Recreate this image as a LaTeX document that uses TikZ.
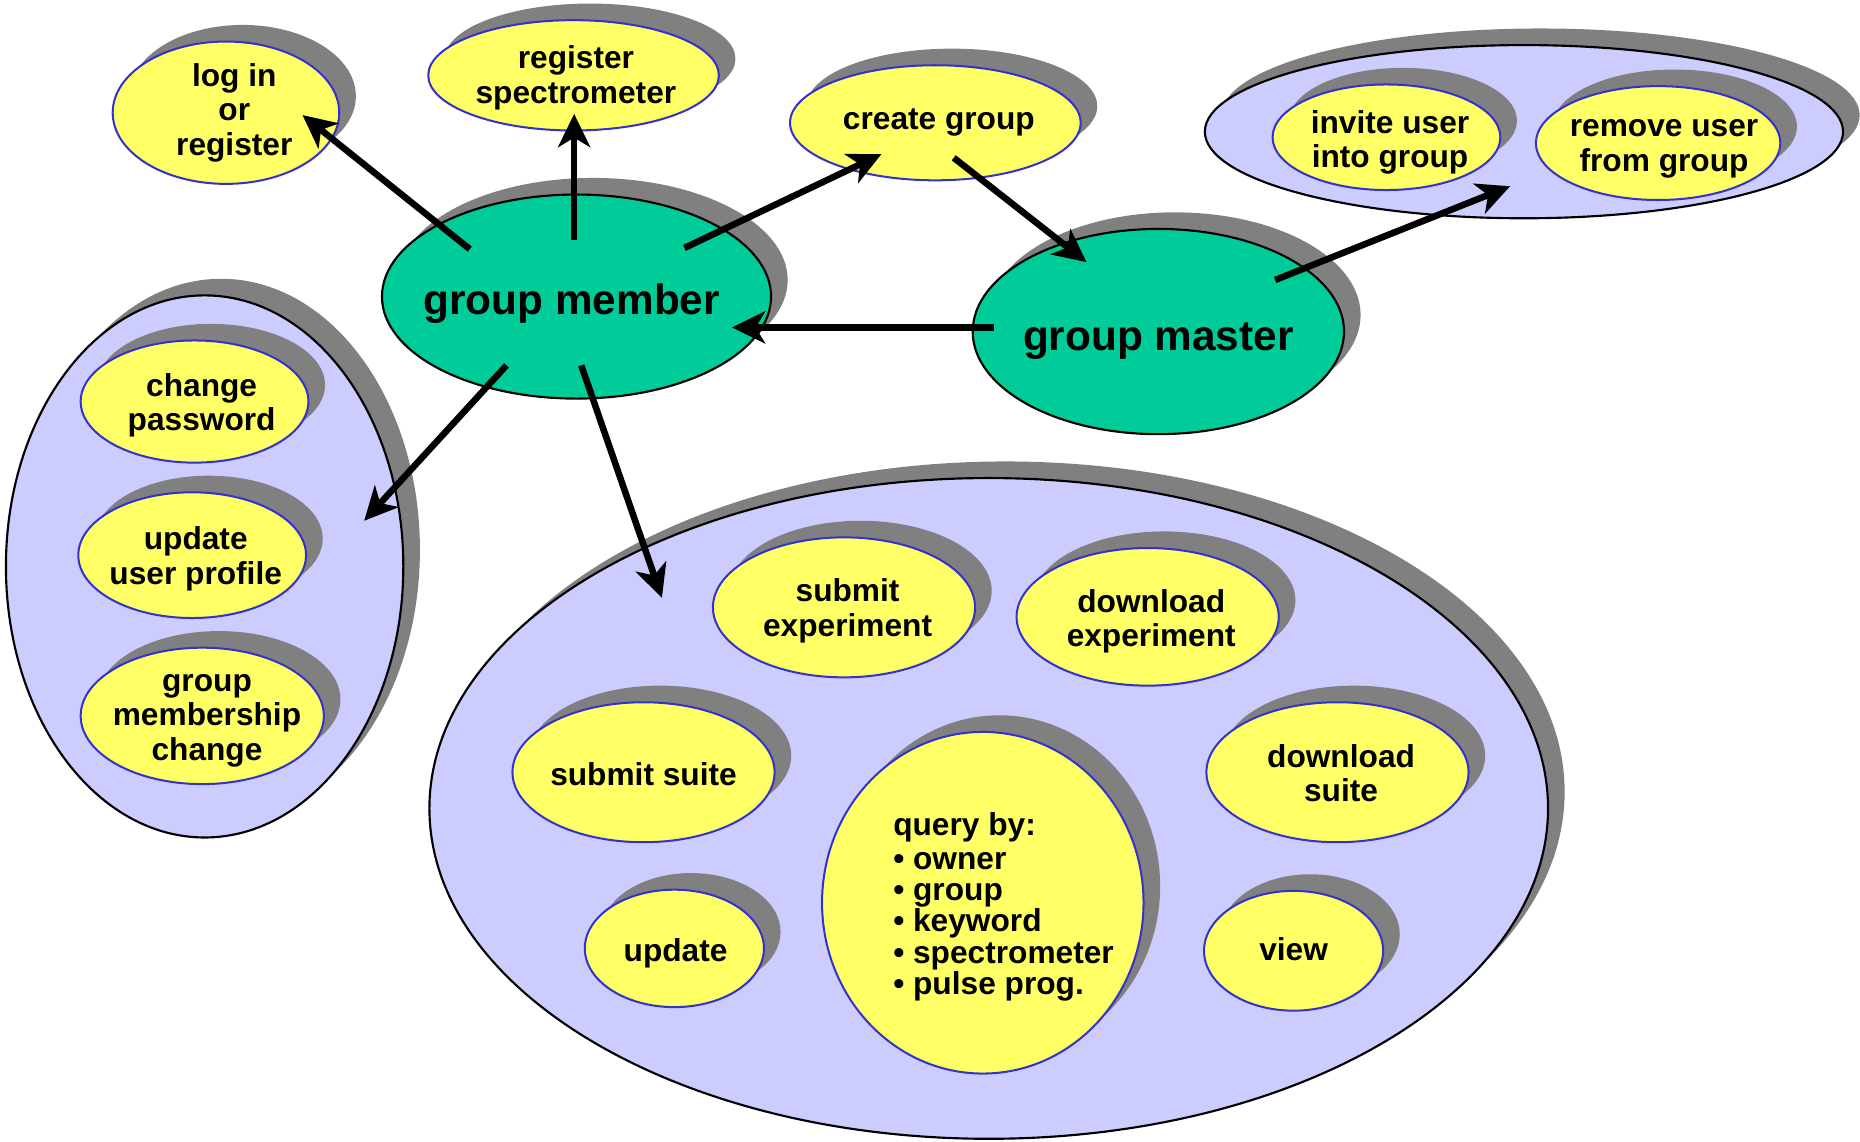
\documentclass[tikz,border=0pt]{standalone}
\usepackage{fontspec}
\setmainfont{Liberation Sans}
\usetikzlibrary{shapes.geometric,shadows,arrows.meta}
\definecolor{ucyellow}{HTML}{FFFF66}
\definecolor{borderblue}{HTML}{3333CC}
\definecolor{lavender}{HTML}{CCCCFF}
\definecolor{actorgreen}{HTML}{00CC99}
\definecolor{shadowgray}{HTML}{808080}
\begin{document}
\begin{tikzpicture}[x=1pt,y=-1pt,
  shad/.style={drop shadow={shadow xshift=14pt,shadow yshift=14pt,fill=shadowgray,opacity=1}},
  ell/.style={ellipse, inner sep=0pt, shad},
  usecase/.style={ell, draw=borderblue, line width=1.7pt, fill=ucyellow},
  grp/.style={ell, draw=black, line width=1.8pt, fill=lavender},
  actor/.style={ell, draw=black, line width=1.8pt, fill=actorgreen},
  lbl/.style={font=\bfseries\fontsize{26.7}{29}\selectfont, align=center, inner sep=0pt},
  biglbl/.style={font=\bfseries\fontsize{35.7}{40}\selectfont, inner sep=0pt},
  arr/.style={line width=5.5pt, -{Stealth[length=28pt,width=27pt,inset=8pt]}}
]
\fill[white] (0,0) rectangle (1568,962);
\useasboundingbox (0,0) rectangle (1568,962);

% groups
\node[grp, minimum width=943pt, minimum height=557pt] (querygrp) at (833.5,681.5) {};
\node[grp, minimum width=335pt, minimum height=457pt] (profilegrp) at (172.5,477.5) {};
\node[grp, minimum width=538pt, minimum height=146pt] (mastergrp) at (1284.7,111) {};

% top use cases
\node[usecase, minimum width=191pt, minimum height=120pt,
  label={[lbl,xshift=7pt]center:{log in\\or\\register}}] (login) at (190.5,95) {};
\node[usecase, minimum width=245pt, minimum height=93pt,
  label={[lbl,xshift=2pt,yshift=-2pt]center:{register\\spectrometer}}] (regspec) at (483.5,63.5) {};
\node[usecase, minimum width=245pt, minimum height=97pt,
  label={[lbl,xshift=3pt]center:{create group}}] (creategrp) at (788.5,103.5) {};

% master group members
\node[usecase, minimum width=192pt, minimum height=89pt,
  label={[lbl,xshift=3pt,yshift=-4.5pt]center:{invite user\\into group}}] (invite) at (1168.8,115.7) {};
\node[usecase, minimum width=206pt, minimum height=96pt,
  label={[lbl,xshift=5pt,yshift=-5pt]center:{remove user\\from group}}] (remove) at (1397.8,120.6) {};

% profile group members
\node[usecase, minimum width=192pt, minimum height=103pt,
  label={[lbl,xshift=6pt,yshift=-3pt]center:{change\\password}}] (chpass) at (164,338.5) {};
\node[usecase, minimum width=192pt, minimum height=106pt,
  label={[lbl,xshift=3pt,yshift=-3pt]center:{update\\user profile}}] (updprof) at (162,468) {};
\node[usecase, minimum width=205pt, minimum height=115pt,
  label={[lbl,xshift=4pt,yshift=-4pt]center:{group\\membership\\change}}] (memb) at (170.5,603.5) {};

% query group members
\node[usecase, minimum width=221pt, minimum height=118pt,
  label={[lbl,xshift=3pt,yshift=-3pt]center:{submit\\experiment}}] (subexp) at (711.5,512) {};
\node[usecase, minimum width=221pt, minimum height=116pt,
  label={[lbl,xshift=3pt,yshift=-4pt]center:{download\\experiment}}] (dlexp) at (967.5,520) {};
\node[usecase, minimum width=221pt, minimum height=118pt,
  label={[lbl,yshift=-2pt]center:{submit suite}}] (subsuite) at (542.5,651) {};
\node[usecase, minimum width=221pt, minimum height=118pt,
  label={[lbl,xshift=3pt,yshift=-1pt]center:{download\\suite}}] (dlsuite) at (1127.5,651) {};
\node[usecase, minimum width=271pt, minimum height=288pt] (query) at (828.5,761) {};
\node[lbl, align=left, font=\bfseries\fontsize{26.7}{26.5}\selectfont] (querytext) at (846,764.5)
  {query by:\\[2pt]\textbullet\ owner\\\textbullet\ group\\\textbullet\ keyword\\\textbullet\ spectrometer\\\textbullet\ pulse prog.};
\node[usecase, minimum width=151pt, minimum height=99pt,
  label={[lbl,xshift=1pt,yshift=-4pt]center:{update}}] (update) at (568.5,799.5) {};
\node[usecase, minimum width=151pt, minimum height=101pt,
  label={[lbl,yshift=1pt]center:{view}}] (view) at (1090.5,801.5) {};

% actors
\node[actor, minimum width=328pt, minimum height=172pt,
  label={[biglbl,xshift=-4pt,yshift=-6pt]center:{group member}}] (member) at (486,250) {};
\node[actor, minimum width=313pt, minimum height=173pt,
  label={[biglbl,yshift=-8pt]center:{group master}}] (master) at (976.5,279.5) {};

% arrow end points
\coordinate (aS) at (396,210); \coordinate (aE) at (255,97);
\coordinate (bS) at (484,202); \coordinate (bE) at (484,96);
\coordinate (cS) at (577,209); \coordinate (cE) at (743,130);
\coordinate (dS) at (804,133); \coordinate (dE) at (916,221);
\coordinate (eS) at (838,276); \coordinate (eE) at (617,276);
\coordinate (fS) at (1075,236); \coordinate (fE) at (1273,157);
\coordinate (gS) at (427,308); \coordinate (gE) at (307,439);
\coordinate (hS) at (490,308); \coordinate (hE) at (558,504);

\draw[arr] (aS) -- (aE);
\draw[arr] (bS) -- (bE);
\draw[arr] (cS) -- (cE);
\draw[arr] (dS) -- (dE);
\draw[arr] (eS) -- (eE);
\draw[arr] (fS) -- (fE);
\draw[arr] (gS) -- (gE);
\draw[arr] (hS) -- (hE);
\end{tikzpicture}
\end{document}
